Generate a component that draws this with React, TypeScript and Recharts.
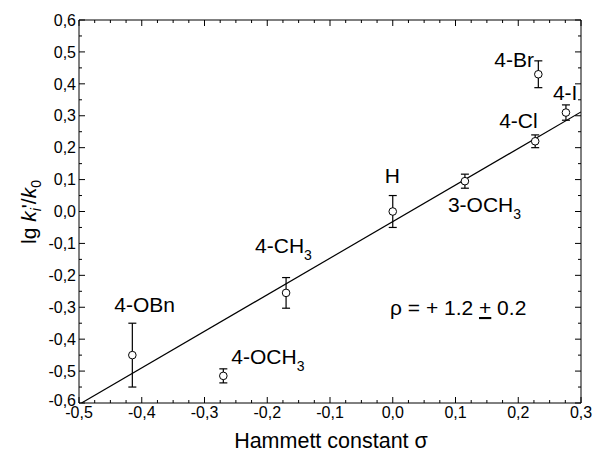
import React from 'react';
import { ScatterChart, Scatter, XAxis, YAxis, ErrorBar, Customized } from 'recharts';

// ---- data ----
const substituents = ['4-OBn', '4-OCH3', '4-CH3', 'H', '3-OCH3', '4-Cl', '4-Br', '4-I'];
const sigmaValues = [-0.415, -0.27, -0.17, 0.0, 0.115, 0.227, 0.232, 0.276];
const lgKValues = [-0.45, -0.515, -0.255, 0.0, 0.095, 0.22, 0.43, 0.31];
const lgKErrors = [0.1, 0.022, 0.048, 0.05, 0.022, 0.02, 0.042, 0.024];
const fitSigma = [-0.496, 0.3];
const fitLgK = [-0.6, 0.312];
const xMajorTicks = [-0.5, -0.4, -0.3, -0.2, -0.1, 0.0, 0.1, 0.2, 0.3];
const yMajorTicks = [-0.6, -0.5, -0.4, -0.3, -0.2, -0.1, 0.0, 0.1, 0.2, 0.3, 0.4, 0.5, 0.6];
const xMinorPerMajor = 4; // ticks every 0.025
const yMinorPerMajor = 2; // ticks every 0.05

const FONT = 'Liberation Sans, Arial, Helvetica, sans-serif';

const points = substituents.map((name, i) => ({
  name,
  x: sigmaValues[i],
  y: lgKValues[i],
  err: lgKErrors[i],
}));
const fitData = fitSigma.map((x, i) => ({ x, y: fitLgK[i] }));

function withMinors(majors: number[], n: number): number[] {
  const out: number[] = [];
  for (let i = 0; i < majors.length; i++) {
    out.push(majors[i]);
    if (i < majors.length - 1) {
      const step = (majors[i + 1] - majors[i]) / n;
      for (let k = 1; k < n; k++) out.push(+(majors[i] + k * step).toFixed(4));
    }
  }
  return out;
}
const xTicks = withMinors(xMajorTicks, xMinorPerMajor);
const yTicks = withMinors(yMajorTicks, yMinorPerMajor);

const isMajor = (v: number) => Math.abs(v * 10 - Math.round(v * 10)) < 1e-6;
const fmt = (v: number) => (Math.abs(v) < 1e-9 ? 0 : v).toFixed(1).replace('.', ',');

const MAJOR = 6;
const MINOR = 3;

const BottomTick = (props: any) => {
  const { x, y, payload } = props;
  const major = isMajor(payload.value);
  return (
    <g>
      <line x1={x} y1={y} x2={x} y2={y - (major ? MAJOR : MINOR)} stroke="#000" strokeWidth={1} />
      {major && (
        <text x={x} y={y + 15} textAnchor="middle" fontFamily={FONT} fontSize={16} fill="#000">
          {fmt(payload.value)}
        </text>
      )}
    </g>
  );
};
const TopTick = (props: any) => {
  const { x, y, payload } = props;
  const major = isMajor(payload.value);
  return <line x1={x} y1={y} x2={x} y2={y + (major ? MAJOR : MINOR)} stroke="#000" strokeWidth={1} />;
};
const LeftTick = (props: any) => {
  const { x, y, payload } = props;
  const major = isMajor(payload.value);
  const lift = payload.value <= -0.599 ? 2.5 : 0;
  return (
    <g>
      <line x1={x} y1={y} x2={x + (major ? MAJOR : MINOR)} y2={y} stroke="#000" strokeWidth={1} />
      {major && (
        <text x={x - 3} y={y + 5.7 - lift} textAnchor="end" fontFamily={FONT} fontSize={16} fill="#000">
          {fmt(payload.value)}
        </text>
      )}
    </g>
  );
};
const RightTick = (props: any) => {
  const { x, y, payload } = props;
  const major = isMajor(payload.value);
  return <line x1={x} y1={y} x2={x - (major ? MAJOR : MINOR)} y2={y} stroke="#000" strokeWidth={1} />;
};

// label placement (pixels, relative to the marker centre)
const labelOffsets: Record<string, [number, number]> = {
  '4-OBn': [-18, -43],
  '4-OCH3': [8, -12],
  '4-CH3': [-31, -40],
  H: [-8, -29],
  '3-OCH3': [-17, 31],
  '4-Cl': [-36, -13],
  '4-Br': [-44, -7],
  '4-I': [-13, -13],
};

const LabelShape = (props: any) => {
  const { cx, cy, payload } = props;
  const name: string = payload.name;
  const [dx, dy] = labelOffsets[name] || [0, 0];
  const hasSub = /CH3$/.test(name);
  const main = hasSub ? name.slice(0, -1) : name;
  return (
    <text x={cx + dx} y={cy + dy} fontFamily={FONT} fontSize={21} fill="#000">
      {main}
      {hasSub && (
        <tspan fontSize={14} dy={7}>
          3
        </tspan>
      )}
    </text>
  );
};

const CircleShape = (props: any) => {
  const { cx, cy } = props;
  return <circle cx={cx} cy={cy} r={3.8} fill="#fff" stroke="#000" strokeWidth={1} />;
};
const EmptyShape = () => <g />;

const Annotations = () => (
  <g fontFamily={FONT} fill="#000">
    <text x={331} y={448} textAnchor="middle" fontSize={21.5}>
      Hammett constant σ
    </text>
    <text transform="translate(36,212) rotate(-90)" textAnchor="middle" fontSize={21}>
      lg <tspan fontStyle="italic">k</tspan>
      <tspan fontStyle="italic" fontSize={14} dy={5}>i</tspan>
      <tspan dy={-5}>'/</tspan>
      <tspan fontStyle="italic">k</tspan>
      <tspan fontSize={14} dy={5}>0</tspan>
    </text>
    <text x={390} y={315} fontSize={21}>
      ρ = + 1.2 <tspan textDecoration="underline">+</tspan> 0.2
    </text>
  </g>
);

export default function App() {
  return (
    <div style={{ position: 'absolute', left: 0, top: 0, width: 594, height: 453, background: '#fff' }}>
      <ScatterChart width={594} height={453} margin={{ top: 0, right: 0, bottom: 0, left: 0 }}>
        <XAxis
          type="number"
          dataKey="x"
          xAxisId="b"
          orientation="bottom"
          domain={[-0.5, 0.3]}
          ticks={xTicks}
          interval={0}
          height={50}
          tickSize={0}
          tickMargin={0}
          tickLine={false}
          axisLine={{ stroke: '#000', strokeWidth: 1 }}
          tick={<BottomTick />}
          allowDataOverflow
        />
        <XAxis
          type="number"
          dataKey="x"
          xAxisId="t"
          orientation="top"
          domain={[-0.5, 0.3]}
          ticks={xTicks}
          interval={0}
          height={20}
          tickSize={0}
          tickMargin={0}
          tickLine={false}
          axisLine={{ stroke: '#000', strokeWidth: 1 }}
          tick={<TopTick />}
          allowDataOverflow
        />
        <YAxis
          type="number"
          dataKey="y"
          yAxisId="l"
          orientation="left"
          domain={[-0.6, 0.6]}
          ticks={yTicks}
          interval={0}
          width={79}
          tickSize={0}
          tickMargin={0}
          tickLine={false}
          axisLine={{ stroke: '#000', strokeWidth: 1 }}
          tick={<LeftTick />}
          allowDataOverflow
        />
        <YAxis
          type="number"
          dataKey="y"
          yAxisId="r"
          orientation="right"
          domain={[-0.6, 0.6]}
          ticks={yTicks}
          interval={0}
          width={13}
          tickSize={0}
          tickMargin={0}
          tickLine={false}
          axisLine={{ stroke: '#000', strokeWidth: 1 }}
          tick={<RightTick />}
          allowDataOverflow
        />
        <Scatter
          data={fitData}
          xAxisId="b"
          yAxisId="l"
          line={{ stroke: '#000', strokeWidth: 1.2 }}
          shape={<EmptyShape />}
          isAnimationActive={false}
        />
        <Scatter data={points} xAxisId="b" yAxisId="l" shape={<EmptyShape />} isAnimationActive={false}>
          <ErrorBar dataKey="err" direction="y" width={4} stroke="#000" strokeWidth={1.2} isAnimationActive={false} />
        </Scatter>
        <Scatter data={points} xAxisId="b" yAxisId="l" shape={<CircleShape />} isAnimationActive={false} />
        <Scatter data={points} xAxisId="b" yAxisId="l" shape={<LabelShape />} isAnimationActive={false} />
        <Customized component={<Annotations />} />
      </ScatterChart>
    </div>
  );
}
